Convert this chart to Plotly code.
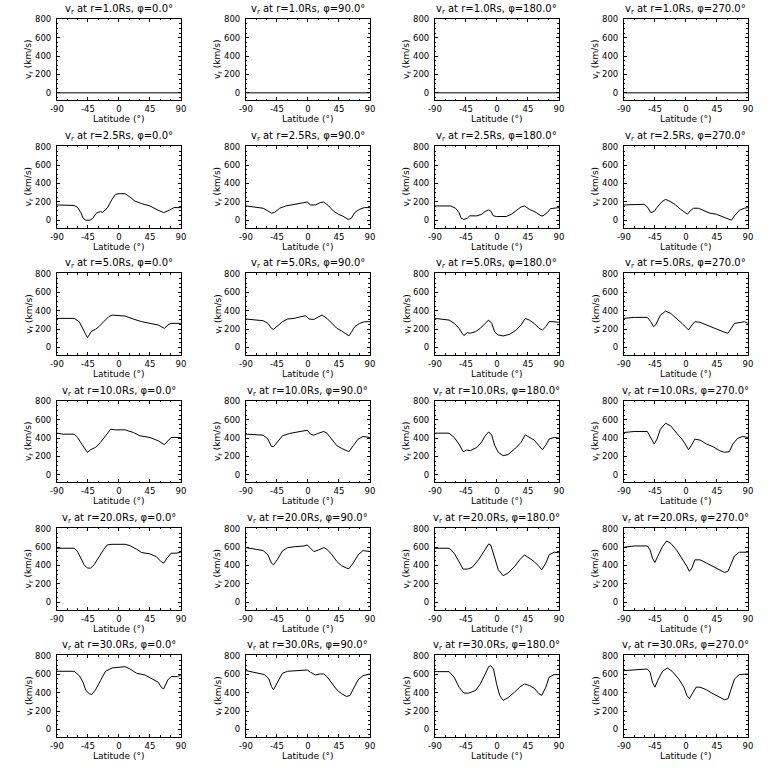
import plotly.graph_objects as go

# ---------------- data (latitude in deg, v_r in km/s) ----------------
radii = ["1.0", "2.5", "5.0", "10.0", "20.0", "30.0"]
phis = ["0.0", "90.0", "180.0", "270.0"]
x_ticks = [-90, -45, 0, 45, 90]
y_ticks = [0, 200, 400, 600, 800]

# r = 1.0 Rs
lat_r1_p0 = [-90, 90]
v_r1_p0 = [0, 0]
lat_r1_p90 = [-90, 90]
v_r1_p90 = [0, 0]
lat_r1_p180 = [-90, 90]
v_r1_p180 = [0, 0]
lat_r1_p270 = [-90, 90]
v_r1_p270 = [0, 0]

# r = 2.5 Rs
lat_r2_p0 = [-90, -70, -65, -60, -55, -52, -48, -42, -38, -33, -27, -24, -17, -10, -5, 0, 9, 16, 23, 33, 45, 57, 65, 73, 80, 90]
v_r2_p0 = [166, 166, 160, 140, 80, 20, 0, 0, 20, 75, 95, 83, 130, 227, 281, 288, 288, 252, 209, 180, 155, 108, 83, 108, 137, 137]
lat_r2_p90 = [-90, -75, -65, -58, -53, -48.6, -41, -32, -22, -13, -5.7, -1, 3.8, 11, 18, 23, 30, 37, 44, 51, 58.6, 63, 68, 75, 82, 90]
v_r2_p90 = [155, 144, 130, 100, 76, 83, 130, 155, 166, 180, 191, 198, 166, 166, 191, 198, 155, 100, 65, 43, 7, 22, 83, 119, 137, 137]
lat_r2_p180 = [-90, -67, -60, -55, -52, -48, -43, -39.5, -29, -22, -17, -12, -9, -5, -0.5, 13.8, 21, 28, 35, 40, 47, 57, 64, 67, 73, 78, 90]
v_r2_p180 = [155, 155, 130, 83, 22, 7, 22, 47, 47, 65, 94, 112, 100, 47, 40, 40, 65, 100, 144, 155, 119, 83, 47, 47, 83, 126, 137]
lat_r2_p270 = [-90, -75, -60.5, -56, -51, -46, -42, -35, -29.5, -22, -15, -8, -1, 2.4, 6, 11, 18, 25, 34.8, 44, 54, 61, 66, 70.5, 77.6, 84.8, 90]
v_r2_p270 = [166, 173, 173, 144, 83, 95, 140, 200, 227, 200, 166, 119, 83, 65, 100, 130, 130, 108, 76, 65, 36, 22, 0, 47, 108, 130, 137]

# r = 5.0 Rs
lat_r5_p0 = [-90, -65, -57.6, -52, -49, -45.7, -43, -39.5, -34, -29, -22, -15, -10, -3, 9, 21, 33, 45, 57, 64, 66, 71, 75.7, 90]
v_r5_p0 = [317, 317, 281, 209, 155, 108, 144, 180, 198, 227, 281, 335, 353, 346, 342, 310, 281, 263, 245, 216, 209, 245, 263, 263]
lat_r5_p90 = [-90, -75, -65, -58, -53, -50, -44, -37, -29.5, -20, -10.5, -3, 1.4, 8.6, 15.7, 20.5, 27.6, 35, 42, 49, 56, 59.5, 63, 68, 75, 82, 90]
v_r5_p90 = [310, 299, 292, 263, 209, 198, 238, 281, 310, 317, 335, 346, 310, 306, 335, 353, 317, 263, 209, 180, 137, 126, 166, 227, 263, 281, 281]
lat_r5_p180 = [-90, -76.7, -69.5, -62, -55, -50.5, -48, -43, -38.6, -31, -24, -17, -12, -7.6, -3, 2, 9, 18.6, 28, 35, 41, 47, 54, 61, 66, 71, 75.7, 83, 90]
v_r5_p180 = [317, 310, 299, 263, 209, 155, 130, 162, 155, 173, 209, 263, 299, 263, 166, 137, 126, 144, 191, 245, 317, 299, 263, 209, 191, 227, 281, 281, 274]
lat_r5_p270 = [-90, -75, -56, -51, -47, -44, -37, -29.5, -22, -13, -5.7, -1, 3.8, 8.6, 13, 20.5, 30, 37, 46.7, 56, 61, 65.7, 70.5, 80, 84.8, 90]
v_r5_p270 = [317, 328, 328, 281, 227, 245, 353, 396, 371, 317, 263, 227, 191, 245, 281, 274, 245, 216, 191, 166, 155, 209, 263, 274, 281, 263]

# r = 10.0 Rs
lat_r10_p0 = [-90, -81, -65, -60, -54, -48, -45.7, -41, -34, -26.7, -19.5, -12, -5, 9, 21, 30.5, 45, 57, 66, 71, 75.7, 90]
v_r10_p0 = [454, 443, 443, 407, 335, 263, 245, 274, 299, 353, 425, 497, 490, 490, 461, 425, 407, 371, 328, 371, 407, 407]
lat_r10_p90 = [-90, -65, -58, -53, -50, -44, -37, -27, -17.6, -8, -1, 3.8, 8.6, 15.7, 23, 27.6, 35, 42, 49, 56, 59.5, 65.7, 72.8, 80, 90]
v_r10_p90 = [443, 432, 389, 310, 306, 360, 425, 450, 461, 472, 486, 443, 432, 454, 472, 454, 382, 317, 288, 263, 252, 317, 389, 418, 407]
lat_r10_p180 = [-90, -69.5, -62, -55, -49, -44, -38.6, -29, -22, -17, -12, -7.6, -3, 2, 9, 16, 25.7, 35, 41, 47, 54, 61, 66, 71, 75.7, 83, 90]
v_r10_p180 = [454, 454, 407, 335, 252, 270, 263, 299, 360, 425, 468, 432, 317, 245, 209, 220, 281, 353, 436, 407, 378, 317, 274, 324, 389, 407, 400]
lat_r10_p270 = [-90, -75, -56, -51, -46, -42, -37, -29.5, -22, -13, -5.7, -1, 3.8, 7.6, 13, 20.5, 30, 39.5, 49, 56, 63, 68, 75, 82, 90]
v_r10_p270 = [461, 472, 472, 407, 335, 389, 497, 562, 533, 450, 389, 335, 274, 317, 389, 378, 335, 306, 263, 245, 252, 335, 396, 418, 407]

# r = 20.0 Rs
lat_r20_p0 = [-90, -65, -60, -55, -50.5, -45.7, -41, -36, -29, -22, -17, -10, 9, 16, 25.7, 33, 45, 54, 61, 65, 69.7, 75.7, 83, 90]
v_r20_p0 = [587, 587, 551, 479, 407, 371, 371, 407, 497, 576, 623, 630, 630, 616, 576, 540, 526, 497, 443, 425, 479, 533, 533, 544]
lat_r20_p90 = [-90, -75, -65, -58, -53, -50, -44, -37, -29.5, -17.6, -5.7, -1, 3.8, 8.6, 15.7, 23, 27.6, 35, 42, 49, 56, 59.5, 65.7, 72.8, 80, 90]
v_r20_p90 = [594, 576, 562, 515, 425, 407, 468, 558, 594, 605, 612, 623, 587, 551, 569, 594, 576, 515, 443, 396, 371, 364, 425, 515, 562, 551]
lat_r20_p180 = [-90, -69.5, -62, -55, -49, -43, -36, -26.7, -19.5, -12, -9, -3, 2, 9, 16, 25.7, 33, 40, 47, 54, 61, 65, 71, 75.7, 83, 90]
v_r20_p180 = [587, 587, 533, 443, 360, 360, 378, 461, 551, 634, 623, 461, 353, 288, 317, 389, 461, 515, 479, 443, 389, 353, 425, 515, 544, 540]
lat_r20_p270 = [-90, -75, -56, -52, -48.6, -45, -41, -34, -28, -22, -13, -5.7, 1.4, 5, 8.6, 13, 20.5, 30, 39.5, 49, 56, 61, 65.7, 70.5, 77.6, 90]
v_r20_p270 = [598, 612, 612, 569, 479, 432, 497, 605, 666, 641, 562, 479, 389, 335, 371, 461, 461, 425, 389, 353, 324, 335, 425, 504, 544, 544]

# r = 30.0 Rs
lat_r30_p0 = [-90, -65, -57.6, -52, -48, -43, -39.5, -34, -26.7, -19.5, -10, 2, 9, 16, 25.7, 37.6, 49.5, 57, 62, 65, 71, 75.7, 85, 90]
v_r30_p0 = [634, 634, 587, 515, 425, 389, 382, 432, 533, 634, 670, 677, 684, 659, 612, 594, 551, 515, 454, 443, 540, 576, 576, 594]
lat_r30_p90 = [-90, -75, -63, -56.7, -53, -50, -44, -37, -29.5, -15, -5.7, -1, 3.8, 11, 18, 23, 27.6, 35, 42, 49, 56, 61, 65.7, 72.8, 80, 90]
v_r30_p90 = [641, 616, 598, 551, 468, 432, 515, 612, 634, 641, 648, 648, 623, 594, 605, 605, 576, 497, 432, 389, 360, 371, 443, 540, 587, 605]
lat_r30_p180 = [-90, -69.5, -62, -55, -48, -41, -31, -24, -17, -12, -9, -5, -0.5, 4, 9, 16, 25.7, 33, 40, 47, 54, 61, 65, 71, 75.7, 83, 90]
v_r30_p180 = [630, 630, 569, 461, 396, 396, 425, 497, 605, 684, 695, 659, 497, 371, 317, 346, 407, 461, 497, 479, 450, 389, 371, 461, 569, 598, 598]
lat_r30_p270 = [-90, -75, -56, -52, -48.6, -45, -41, -34, -27, -20, -10.5, -3, 1.4, 5, 9.5, 14.8, 20.5, 30, 39.5, 49, 56, 61, 65.7, 70.5, 77.6, 90]
v_r30_p270 = [641, 648, 659, 623, 515, 461, 533, 634, 670, 634, 551, 461, 371, 335, 389, 461, 461, 432, 389, 353, 324, 335, 432, 551, 598, 605]

lat_rows = [
    [lat_r1_p0, lat_r1_p90, lat_r1_p180, lat_r1_p270],
    [lat_r2_p0, lat_r2_p90, lat_r2_p180, lat_r2_p270],
    [lat_r5_p0, lat_r5_p90, lat_r5_p180, lat_r5_p270],
    [lat_r10_p0, lat_r10_p90, lat_r10_p180, lat_r10_p270],
    [lat_r20_p0, lat_r20_p90, lat_r20_p180, lat_r20_p270],
    [lat_r30_p0, lat_r30_p90, lat_r30_p180, lat_r30_p270],
]
v_rows = [
    [v_r1_p0, v_r1_p90, v_r1_p180, v_r1_p270],
    [v_r2_p0, v_r2_p90, v_r2_p180, v_r2_p270],
    [v_r5_p0, v_r5_p90, v_r5_p180, v_r5_p270],
    [v_r10_p0, v_r10_p90, v_r10_p180, v_r10_p270],
    [v_r20_p0, v_r20_p90, v_r20_p180, v_r20_p270],
    [v_r30_p0, v_r30_p90, v_r30_p180, v_r30_p270],
]

# ---------------- layout ----------------
W = H = 768
CELL_W, CELL_H = 192, 128
BOX_L, BOX_R = 50.7, 176.7
BOX_T, BOX_B = 14.7, 96.7
FONT = "DejaVu Sans"

fig = go.Figure()
annotations = []
idx = 0
for r in range(6):
    for c in range(4):
        idx += 1
        xa = "x" if idx == 1 else f"x{idx}"
        ya = "y" if idx == 1 else f"y{idx}"
        fig.add_trace(go.Scatter(
            x=lat_rows[r][c], y=v_rows[r][c], mode="lines",
            line=dict(color="black", width=1), xaxis=xa, yaxis=ya,
            hoverinfo="skip", showlegend=False))
        x0 = (CELL_W * c + BOX_L) / W
        x1 = (CELL_W * c + BOX_R) / W
        top = CELL_H * r + BOX_T
        bot = CELL_H * r + BOX_B
        y0 = 1 - bot / H
        y1 = 1 - top / H
        common = dict(
            showline=True, linecolor="black", linewidth=1, mirror="allticks",
            ticks="inside", ticklen=3, tickwidth=1, tickcolor="black",
            showgrid=False, zeroline=False, fixedrange=True,
            tickfont=dict(family=FONT, size=8.5, color="black"),
        )
        xkey = "xaxis" if idx == 1 else f"xaxis{idx}"
        ykey = "yaxis" if idx == 1 else f"yaxis{idx}"
        fig.update_layout(**{
            xkey: dict(common, domain=[x0, x1], range=[-90, 90],
                       anchor=ya, tickmode="array", tickvals=x_ticks,
                       ticktext=[str(t) for t in x_ticks],
                       ticklabelstandoff=1,
                       minor=dict(ticks="inside", ticklen=1.5, dtick=15,
                                  tickcolor="black", showgrid=False)),
            ykey: dict(common, domain=[y0, y1], range=[-80, 808],
                       anchor=xa, tickmode="array", tickvals=y_ticks,
                       ticktext=[str(t) for t in y_ticks],
                       ticklabelstandoff=3,
                       minor=dict(ticks="inside", ticklen=1.5, dtick=50,
                                  tickcolor="black", showgrid=False)),
        })
        cx = (x0 + x1) / 2
        annotations.append(dict(
            text=f"v<sub>r</sub> at r={radii[r]}Rs, \u03c6={phis[c]}\u00b0",
            x=cx, y=1 - (top - 1.0) / H, xref="paper", yref="paper",
            xanchor="center", yanchor="bottom", showarrow=False,
            font=dict(family=FONT, size=10, color="black")))
        annotations.append(dict(
            text="Latitude (\u00b0)",
            x=cx, y=1 - (CELL_H * r + 116) / H, xref="paper", yref="paper",
            xanchor="center", yanchor="middle", showarrow=False,
            font=dict(family=FONT, size=9, color="black")))
        annotations.append(dict(
            text="v<sub>r</sub> (km/s)", textangle=-90,
            x=(CELL_W * c + 22) / W, y=(y0 + y1) / 2, xref="paper", yref="paper",
            xanchor="center", yanchor="middle", showarrow=False,
            font=dict(family=FONT, size=9, color="black")))

fig.update_layout(
    width=W, height=H, margin=dict(l=0, r=0, t=0, b=0),
    paper_bgcolor="white", plot_bgcolor="white",
    showlegend=False, annotations=annotations,
)

fig.write_html(
    "out.html",
    config={"displayModeBar": False, "staticPlot": True},
    post_script="document.body.style.margin='0';document.body.style.overflow='hidden';",
)
